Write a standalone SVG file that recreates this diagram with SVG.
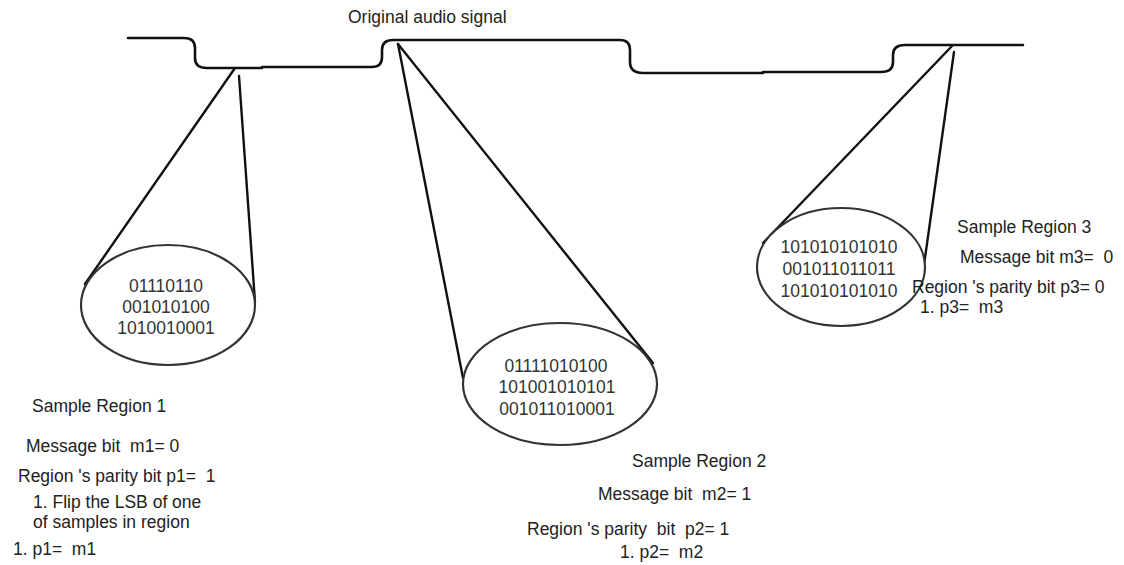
<svg xmlns="http://www.w3.org/2000/svg" width="1124" height="565" viewBox="0 0 1124 565">
  <style>
    .sig { fill: none; stroke: #111; stroke-width: 2.6; stroke-linecap: round; stroke-linejoin: round; }
    .cone { fill: none; stroke: #111; stroke-width: 2.4; stroke-linecap: round; }
    .ell { fill: #fff; stroke: #333; stroke-width: 2.2; }
    .bits { font-family: "Liberation Sans", Arial, sans-serif; font-size: 17.5px; fill: #333; text-anchor: middle; }
    .lbl { font-family: "Liberation Sans", Arial, sans-serif; font-size: 17.5px; fill: #222; }
  </style>
  <rect width="1124" height="565" fill="#fff"/>

  <g id="signal">
    <path class="sig" d="M128,38 H184 Q195,38 195,48 V58 Q195,68 207,68 H262"/>
    <path class="sig" d="M262,67 H372 Q382,67 382,57 V50 Q382,40 393,40 H620 Q630,40 630,50 V62 Q630,73 643,73 H763"/>
    <path class="sig" d="M763,72 H881 Q893,72 893,62 V55 Q893,45 905,45 H1023"/>
    <text class="lbl" x="348" y="23">Original audio signal</text>
  </g>

  <g id="connectors">
    <line class="cone" x1="235" y1="68" x2="85" y2="284"/>
    <line class="cone" x1="239" y1="76" x2="255" y2="302"/>
    <line class="cone" x1="398" y1="44" x2="463" y2="378"/>
    <line class="cone" x1="398" y1="44" x2="653" y2="363"/>
    <line class="cone" x1="952" y1="46" x2="763" y2="243"/>
    <line class="cone" x1="954" y1="52" x2="924" y2="265"/>
  </g>

  <g id="region1">
    <ellipse class="ell" cx="168" cy="305" rx="87" ry="60"/>
    <text class="bits" x="166" y="292">01110110</text>
    <text class="bits" x="166" y="313">001010100</text>
    <text class="bits" x="166" y="334">1010010001</text>
    <text class="lbl" x="32" y="412">Sample Region 1</text>
    <text class="lbl" x="26" y="452" xml:space="preserve">Message bit  m1= 0</text>
    <text class="lbl" x="18" y="482" xml:space="preserve">Region 's parity bit p1=  1</text>
    <text class="lbl" x="33" y="508">1. Flip the LSB of one</text>
    <text class="lbl" x="33" y="528">of samples in region</text>
    <text class="lbl" x="13" y="555" xml:space="preserve">1. p1=  m1</text>
  </g>

  <g id="region2">
    <ellipse class="ell" cx="560" cy="384" rx="97" ry="61"/>
    <text class="bits" x="556" y="372">01111010100</text>
    <text class="bits" x="557" y="393">101001010101</text>
    <text class="bits" x="557" y="415">001011010001</text>
    <text class="lbl" x="632" y="467">Sample Region 2</text>
    <text class="lbl" x="598" y="500" xml:space="preserve">Message bit  m2= 1</text>
    <text class="lbl" x="527" y="535" xml:space="preserve">Region 's parity  bit  p2= 1</text>
    <text class="lbl" x="620" y="558" xml:space="preserve">1. p2=  m2</text>
  </g>

  <g id="region3">
    <ellipse class="ell" cx="841" cy="267" rx="84" ry="59"/>
    <text class="bits" x="839" y="253">101010101010</text>
    <text class="bits" x="839" y="275">001011011011</text>
    <text class="bits" x="839" y="297">101010101010</text>
    <text class="lbl" x="957" y="233">Sample Region 3</text>
    <text class="lbl" x="960" y="263" xml:space="preserve">Message bit m3=  0</text>
    <text class="lbl" x="912" y="293">Region 's parity bit p3= 0</text>
    <text class="lbl" x="920" y="313" xml:space="preserve">1. p3=  m3</text>
  </g>
</svg>
